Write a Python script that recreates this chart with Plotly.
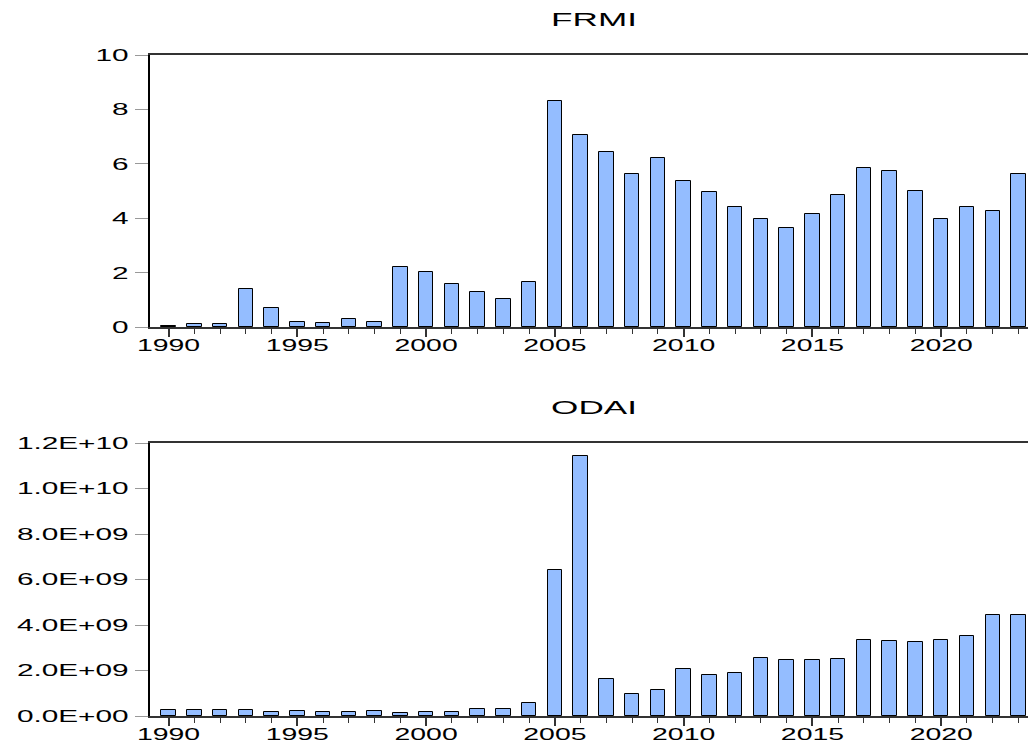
import plotly.graph_objects as go

# ---- data ----
years = list(range(1990, 2024))
frmi = [0.02, 0.11, 0.11, 1.40, 0.69, 0.17, 0.15, 0.29, 0.20, 2.20,
        2.02, 1.58, 1.27, 1.02, 1.66, 8.32, 7.07, 6.45, 5.64, 6.22,
        5.36, 4.96, 4.42, 3.98, 3.65, 4.17, 4.86, 5.86, 5.75, 5.01,
        3.97, 4.41, 4.25, 5.64]
odai = [0.25e9, 0.26e9, 0.26e9, 0.28e9, 0.19e9, 0.21e9, 0.19e9, 0.19e9, 0.20e9, 0.15e9,
        0.18e9, 0.17e9, 0.29e9, 0.31e9, 0.59e9, 6.40e9, 11.42e9, 1.64e9, 0.97e9, 1.16e9,
        2.06e9, 1.82e9, 1.91e9, 2.53e9, 2.48e9, 2.44e9, 2.50e9, 3.36e9, 3.30e9, 3.27e9,
        3.36e9, 3.52e9, 4.45e9, 4.45e9]
x_tick_years = [1990, 1995, 2000, 2005, 2010, 2015, 2020]
frmi_tick_vals = [0, 2, 4, 6, 8, 10]
frmi_tick_labels = ["0", "2", "4", "6", "8", "10"]
odai_tick_vals = [0, 2e9, 4e9, 6e9, 8e9, 1.0e10, 1.2e10]
odai_tick_labels = ["0.0E+00", "2.0E+09", "4.0E+09", "6.0E+09", "8.0E+09", "1.0E+10", "1.2E+10"]
titles = ["FRMI", "ODAI"]

W, H = 1028, 743
FONT = "Liberation Sans, Arial, sans-serif"
BAR_FILL = "rgb(148,189,255)"

fig = go.Figure()
fig.add_trace(go.Bar(x=years, y=frmi, width=0.56, marker=dict(color=BAR_FILL, line=dict(color="black", width=1)),
                     xaxis="x", yaxis="y", showlegend=False))
fig.add_trace(go.Bar(x=years, y=odai, width=0.56, marker=dict(color=BAR_FILL, line=dict(color="black", width=1)),
                     xaxis="x2", yaxis="y2", showlegend=False))

def ypx(a, b):
    return [1 - b / H, 1 - a / H]

xcommon = dict(range=[1989.28, 2023.37], showline=True, linecolor="#333", linewidth=2, mirror=True,
               ticks="outside", ticklen=8, tickwidth=1.5, tickcolor="#333", ticklabelstandoff=-6,
               tickvals=x_tick_years, ticktext=[str(v) for v in x_tick_years],
               minor=dict(dtick=1, ticks="outside", ticklen=5, tickcolor="#333", tickwidth=1),
               showgrid=False, zeroline=False, automargin=False,
               tickfont=dict(family=FONT, size=17, color="black"))
ycommon = dict(showline=True, linecolor="black", linewidth=2, ticks="outside", ticklen=13,
               tickcolor="#999", tickwidth=1, ticklabelstandoff=3, showgrid=False, zeroline=False,
               automargin=False, tickfont=dict(family=FONT, size=17, color="black"))

fig.update_layout(
    width=W, height=H,
    margin=dict(l=150, r=0, t=0, b=0),
    paper_bgcolor="white", plot_bgcolor="white",
    xaxis=dict(domain=[0, 1], anchor="y", **xcommon),
    yaxis=dict(domain=ypx(55, 327), anchor="x", range=[0, 10],
               tickvals=frmi_tick_vals, ticktext=frmi_tick_labels, **ycommon),
    xaxis2=dict(domain=[0, 1], anchor="y2", **xcommon),
    yaxis2=dict(domain=ypx(443, 716), anchor="x2", range=[0, 1.2e10],
                tickvals=odai_tick_vals, ticktext=odai_tick_labels, **ycommon),
    bargap=0,
)

title_x = (594 - 150) / (W - 150)
for t, ycen in zip(titles, [19.5, 408]):
    fig.add_annotation(text=t, xref="paper", yref="paper", x=title_x, y=1 - ycen / H,
                       xanchor="center", yanchor="middle", showarrow=False,
                       font=dict(family=FONT, size=18, color="black"))

post = """
document.body.style.margin = '0';
document.body.style.padding = '0';
document.body.style.overflow = 'hidden';
var gd = document.getElementById('{plot_id}');
function stretch(){
  var specs = [['.xtick text, .x2tick text', 1.67], ['.ytick text, .y2tick text', 1.75], ['.annotation-text', 1.95]];
  specs.forEach(function(s){
    gd.querySelectorAll(s[0]).forEach(function(t){
      if(!t.dataset.w0){ t.dataset.w0 = t.getComputedTextLength(); }
      t.setAttribute('lengthAdjust','spacingAndGlyphs');
      t.setAttribute('textLength', parseFloat(t.dataset.w0) * s[1]);
    });
  });
}
stretch();
gd.on('plotly_afterplot', stretch);
"""

fig.write_html("out.html", post_script=post, config={"displayModeBar": False})
